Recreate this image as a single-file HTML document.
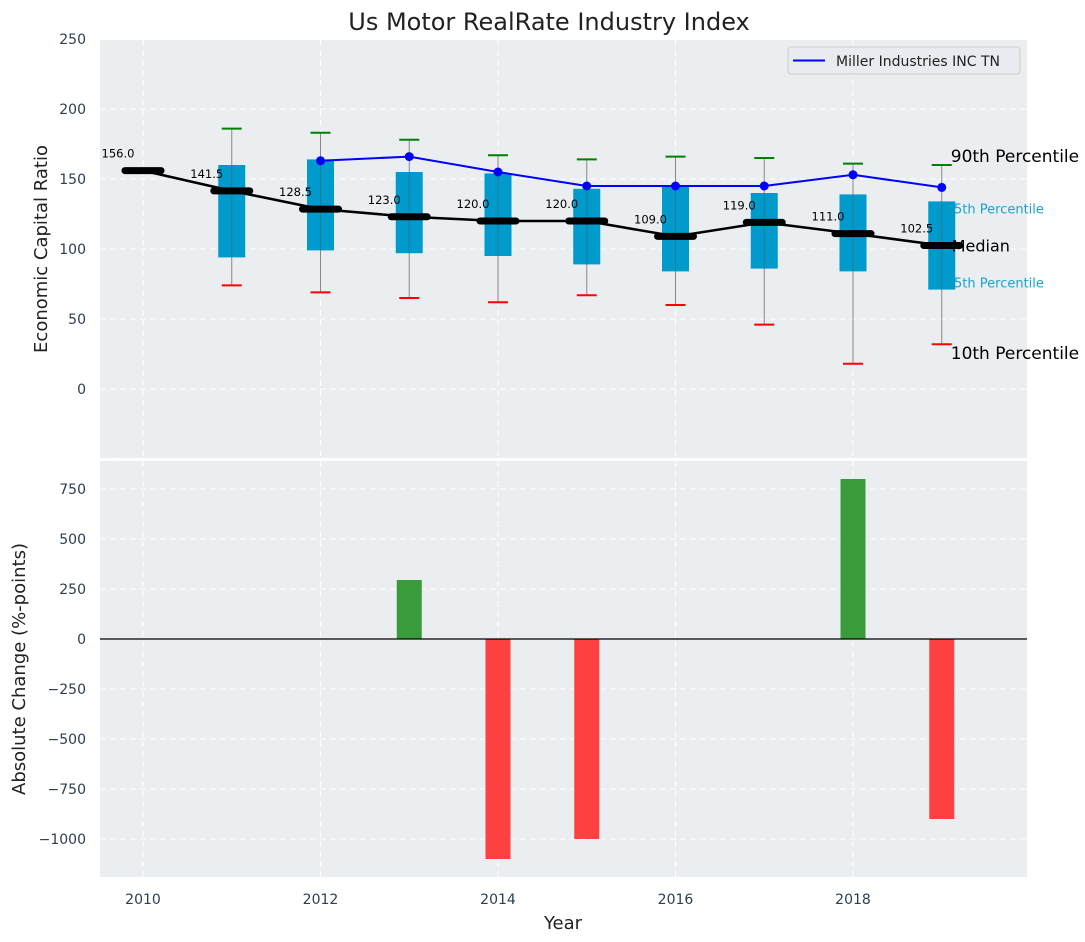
<!DOCTYPE html>
<html><head><meta charset="utf-8"><style>
html,body{margin:0;padding:0;background:#fff;}
svg{display:block;font-family:"DejaVu Sans","Liberation Sans",sans-serif;}
</style></head><body>
<svg id="chart" width="1085" height="942" viewBox="0 0 1085 942">
<text x="549" y="30" text-anchor="middle" font-size="24" fill="#222">Us Motor RealRate Industry Index</text>
<rect x="100" y="40" width="927" height="418" fill="#eaeef0"/>
<rect x="100" y="461" width="927" height="416" fill="#eaeef0"/>
<g id="gtop"></g>
<g id="gbot"></g>
<text x="47" y="249" transform="rotate(-90 47 249)" text-anchor="middle" font-size="18" fill="#222">Economic Capital Ratio</text>
<text x="25" y="669" transform="rotate(-90 25 669)" text-anchor="middle" font-size="18" fill="#222">Absolute Change (%-points)</text>
<text x="563" y="929" text-anchor="middle" font-size="18" fill="#222">Year</text>
<g>
<rect x="788" y="47" width="232" height="27" rx="3" fill="#e8ebef" stroke="#ccc"/>
<line x1="793" y1="60.5" x2="825" y2="60.5" stroke="#0000ff" stroke-width="2"/>
<text x="836" y="66" font-size="14" fill="#222">Miller Industries INC TN</text>
</g>
</svg>
<script>
const years=[2010,2011,2012,2013,2014,2015,2016,2017,2018,2019];
const medians=[156,141.5,128.5,123,120,120,109,119,111,102.5];
const p90=[null,186,183,178,167,164,166,165,161,160];
const p75=[null,160,164,155,154,143,145,140,139,134];
const p25=[null,94,99,97,95,89,84,86,84,71];
const p10=[null,74,69,65,62,67,60,46,18,32];
const company=[null,null,163,166,155,145,145,145,153,144];
const changeYears=[2013,2014,2015,2018,2019];
const changes=[295,-1100,-1000,800,-900];
const topTicks=[0,50,100,150,200,250];
const botTicks=[-1000,-750,-500,-250,0,250,500,750];
const xTicks=[2010,2012,2014,2016,2018];

(function(){
const NS="http://www.w3.org/2000/svg";
const X=y=>143+(y-2010)*88.75;
const YT=v=>389-v*1.4;
const YB=v=>639-v*0.2;
function mk(p,tag,a,txt){const e=document.createElementNS(NS,tag);for(const k in a)e.setAttribute(k,a[k]);if(txt!==undefined)e.textContent=txt;p.appendChild(e);return e;}
const gTop=document.getElementById('gtop'),gBot=document.getElementById('gbot');
const tc="#2d3e50";
topTicks.forEach(t=>{
 const g=mk(gTop,'line',{x1:100,x2:1027,y1:YT(t),y2:YT(t),stroke:'#fff','stroke-dasharray':'6,4','stroke-width':1});
 
 
 const l=mk(gTop,'text',{x:86,y:YT(t)+5,'text-anchor':'end','font-size':14,fill:tc},String(t));
 
 
});
botTicks.forEach(t=>{
 const g=mk(gBot,'line',{x1:100,x2:1027,y1:YB(t),y2:YB(t),stroke:'#fff','stroke-dasharray':'6,4','stroke-width':1});
 
 
 const l=mk(gBot,'text',{x:86,y:YB(t)+5,'text-anchor':'end','font-size':14,fill:tc},t<0?'\u2212'+(-t):String(t));
 
 
});
xTicks.forEach(t=>{
 [[40,458,gTop],[461,877,gBot]].forEach(([a,b,p])=>{
  const g=mk(p,'line',{x1:X(t),x2:X(t),y1:a,y2:b,stroke:'#fff','stroke-dasharray':'6,4'});
  
  
 });
 const l=mk(gBot,'text',{x:X(t),y:904,'text-anchor':'middle','font-size':14,fill:tc},String(t));
 
 
});
const L=years.length-1, lx=X(years[L])+9;
[[p90[L],'90th Percentile',17,'#000',0,-3],[p75[L],'75th Percentile',13,'#1ba1d4',-5,12],[p25[L],'25th Percentile',13,'#1ba1d4',-5,-2],[p10[L],'10th Percentile',17,'#000',0,15]].forEach(([v,s,fs,c,dx,dy])=>{
 const t=mk(gTop,'text',{x:lx+dx,y:YT(v)+dy,'font-size':fs,fill:c},s);
 
 
});
years.forEach((y,i)=>{
 if(p90[i]==null)return;
 const x=X(y);
 const w=mk(gTop,'line',{x1:x,x2:x,y1:YT(p90[i]),y2:YT(p10[i]),stroke:'#888','stroke-width':1});
 
 
 const b=mk(gTop,'rect',{x:x-13.5,y:YT(p75[i]),width:27,height:YT(p25[i])-YT(p75[i]),fill:'#009acd'});
 
 
 const w2=mk(gTop,'line',{x1:x,x2:x,y1:YT(p75[i]),y2:YT(p25[i]),stroke:'#555','stroke-width':1,'stroke-opacity':0.5});
 
 
 const c1=mk(gTop,'line',{x1:x-10,x2:x+10,y1:YT(p90[i]),y2:YT(p90[i]),stroke:'#008000','stroke-width':2});
 
 
 const c2=mk(gTop,'line',{x1:x-10,x2:x+10,y1:YT(p10[i]),y2:YT(p10[i]),stroke:'#ff0000','stroke-width':2});
 
 
});
const ml=mk(gTop,'polyline',{points:years.map((y,i)=>X(y)+','+YT(medians[i])).join(' '),fill:'none',stroke:'#000','stroke-width':2.5});


years.forEach((y,i)=>{
 const m=mk(gTop,'line',{x1:X(y)-18,x2:X(y)+18,y1:YT(medians[i]),y2:YT(medians[i]),stroke:'#000','stroke-width':7,'stroke-linecap':'round'});
 
 
 const t=mk(gTop,'text',{x:X(y)-25,y:YT(medians[i])-13,'text-anchor':'middle','font-size':11.5,fill:'#000'},medians[i].toFixed(1));
 
 
});
const mt=mk(gTop,'text',{x:lx+1,y:YT(medians[L])+6,'font-size':16,fill:'#000'},'Median');


const cp=years.map((y,i)=>company[i]==null?null:X(y)+','+YT(company[i])).filter(Boolean);
const cl=mk(gTop,'polyline',{points:cp.join(' '),fill:'none',stroke:'#0000ff','stroke-width':2});


years.forEach((y,i)=>{
 if(company[i]==null)return;
 const d=mk(gTop,'circle',{cx:X(y),cy:YT(company[i]),r:4.5,fill:'#0000ff'});
 
 
});
changeYears.forEach((y,i)=>{
 const v=changes[i];
 const r=mk(gBot,'rect',{x:X(y)-12.5,y:Math.min(YB(v),YB(0)),width:25,height:Math.abs(YB(v)-YB(0)),fill:v>=0?'#3a9b3a':'#ff4040'});
 
 
});
const z=mk(gBot,'line',{x1:100,x2:1027,y1:YB(0),y2:YB(0),stroke:'#000','stroke-width':1.2});


})();
</script>
</body></html>
